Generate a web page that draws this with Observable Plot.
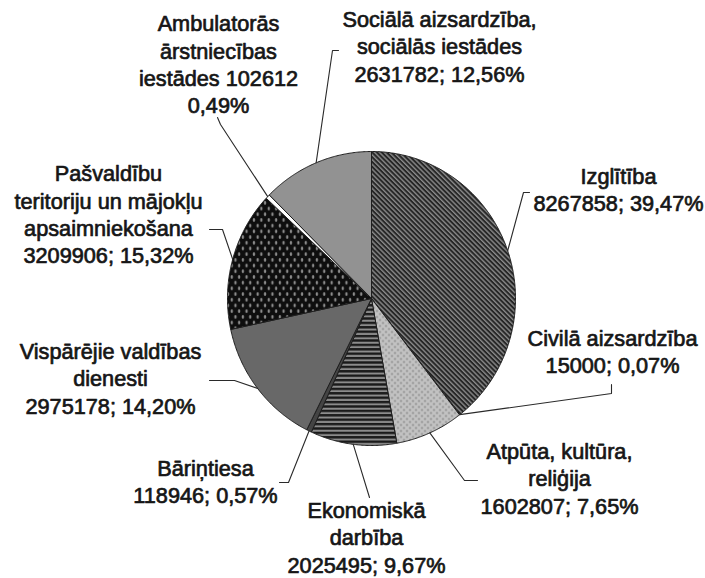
<!DOCTYPE html>
<html>
<head>
<meta charset="utf-8">
<script src="https://cdn.jsdelivr.net/npm/d3@7"></script>
<script src="https://cdn.jsdelivr.net/npm/@observablehq/plot@0.6"></script>
<style>
  html, body { margin: 0; padding: 0; background: #fff; }
  #chart svg { display: block; }
</style>
</head>
<body>
<div id="chart"></div>
<script>
// ---- data (clockwise from 12 o'clock) ----
const categories = [
  "Izglītība",
  "Civilā aizsardzība",
  "Atpūta, kultūra,\nreliģija",
  "Ekonomiskā\ndarbība",
  "Bāriņtiesa",
  "Vispārējie valdības\ndienesti",
  "Pašvaldību\nteritoriju un mājokļu\napsaimniekošana",
  "Ambulatorās\nārstniecības\niestādes",
  "Sociālā aizsardzība,\nsociālās iestādes"
];
const values = [8267858, 15000, 1602807, 2025495, 118946, 2975178, 3209906, 102612, 2631782];

// ---- styles / layout (not data) ----
const fills = ["url(#pIzg)", "#ffffff", "url(#pAtp)", "url(#pEko)", "#444444", "#686868", "url(#pPas)", "#ffffff", "#929292"];
// label block centres and leader elbow points
const labelLayout = [
  {x: 618, y: 188, sep: "\n", lead: [[529, 192], [523, 192]]},
  {x: 612, y: 350, sep: "\n", lead: [[611, 384], [611, 393]]},
  {x: 559, y: 477, sep: "\n", lead: [[477, 480], [464, 480]]},
  {x: 366, y: 536, sep: "\n", lead: [[369, 497]]},
  {x: 205, y: 480, sep: "\n", lead: [[279, 482], [288, 482]]},
  {x: 110, y: 377, sep: "\n", lead: [[209, 380], [234, 380]]},
  {x: 108, y: 213, sep: "\n", lead: [[209, 229], [222, 229]]},
  {x: 218, y: 63,  sep: " ",  lead: [[217, 117], [220, 124]]},
  {x: 439, y: 45,  sep: "\n", lead: [[338, 50], [332, 50]]}
];
const pie = {cx: 371, cy: 298, rx: 144, ry: 147};

// ---- build geometry from data ----
const total = d3.sum(values);
const pctFmt = v => d3.format(".2f")(v * 100 / total).replace(".", ",") + "%";
const arcs = d3.pie().sort(null).value(d => d)(values);
const ept = a => ({x: pie.cx + pie.rx * Math.sin(a), y: pie.cy - pie.ry * Math.cos(a)});

const slices = arcs.map((a, i) => {
  const pts = [{x: pie.cx, y: pie.cy}];
  const n = Math.max(2, Math.ceil((a.endAngle - a.startAngle) / (Math.PI / 360)));
  for (let k = 0; k <= n; k++) pts.push(ept(a.startAngle + (a.endAngle - a.startAngle) * k / n));
  pts.push({x: pie.cx, y: pie.cy});
  return {i, pts};
});

const labels = categories.map((c, i) => {
  const L = labelLayout[i];
  const text = i === 7
    ? c + " " + values[i] + "\n" + pctFmt(values[i])
    : c + L.sep + values[i] + "; " + pctFmt(values[i]);
  return {x: L.x, y: L.y, text};
});

const leaders = [];
arcs.forEach((a, i) => {
  const mid = (a.startAngle + a.endAngle) / 2;
  const e = ept(mid);
  labelLayout[i].lead.forEach(p => leaders.push({k: i, x: p[0], y: p[1]}));
  leaders.push({k: i, x: e.x, y: e.y});
});

const chart = Plot.plot({
  width: 705,
  height: 578,
  margin: 0,
  x: {domain: [0, 705], axis: null},
  y: {domain: [0, 578], reverse: true, axis: null},
  style: {background: "#fff", fontFamily: "'Liberation Sans', Arial, sans-serif"},
  marks: [
    ...slices.map(s => Plot.line(s.pts, {
      x: "x", y: "y", fill: fills[s.i], stroke: "#1e1e1e", strokeWidth: 1,
      strokeLinejoin: "round", curve: "linear"
    })),
    Plot.line(leaders, {x: "x", y: "y", z: "k", stroke: "#2a2a2a", strokeWidth: 1.1, curve: "linear"}),
    Plot.text(labels, {
      x: "x", y: "y", text: "text", fontSize: 21.7, lineHeight: 1.26,
      textAnchor: "middle", lineAnchor: "middle", fill: "#161616",
      stroke: "#161616", strokeWidth: 0.7
    })
  ]
});

// patterns
const defs = d3.select(chart).insert("defs", ":first-child");
const pIzg = defs.append("pattern").attr("id", "pIzg").attr("patternUnits", "userSpaceOnUse")
  .attr("width", 3.4).attr("height", 3.4).attr("patternTransform", "rotate(-45)");
pIzg.append("rect").attr("width", 3.4).attr("height", 3.4).attr("fill", "#262626");
pIzg.append("rect").attr("width", 1.4).attr("height", 3.4).attr("fill", "#8a8a8a");

const pEko = defs.append("pattern").attr("id", "pEko").attr("patternUnits", "userSpaceOnUse")
  .attr("width", 4).attr("height", 4.4);
pEko.append("rect").attr("width", 4).attr("height", 4.4).attr("fill", "#8c8c8c");
pEko.append("rect").attr("width", 4).attr("height", 2.4).attr("fill", "#1a1a1a");

const pAtp = defs.append("pattern").attr("id", "pAtp").attr("patternUnits", "userSpaceOnUse")
  .attr("width", 6).attr("height", 6);
pAtp.append("rect").attr("width", 6).attr("height", 6).attr("fill", "#c2c2c2");
pAtp.append("circle").attr("cx", 1.5).attr("cy", 1.5).attr("r", 0.9).attr("fill", "#808080");
pAtp.append("circle").attr("cx", 4.5).attr("cy", 4.5).attr("r", 0.9).attr("fill", "#808080");

const pPas = defs.append("pattern").attr("id", "pPas").attr("patternUnits", "userSpaceOnUse")
  .attr("width", 7.4).attr("height", 11.4);
pPas.append("rect").attr("width", 7.4).attr("height", 11.4).attr("fill", "#0e0e0e");
pPas.append("ellipse").attr("cx", 1.85).attr("cy", 2.85).attr("rx", 1.2).attr("ry", 2).attr("fill", "#8c8c8c");
pPas.append("ellipse").attr("cx", 5.55).attr("cy", 8.55).attr("rx", 1.2).attr("ry", 2).attr("fill", "#8c8c8c");

document.getElementById("chart").append(chart);
</script>
</body>
</html>
